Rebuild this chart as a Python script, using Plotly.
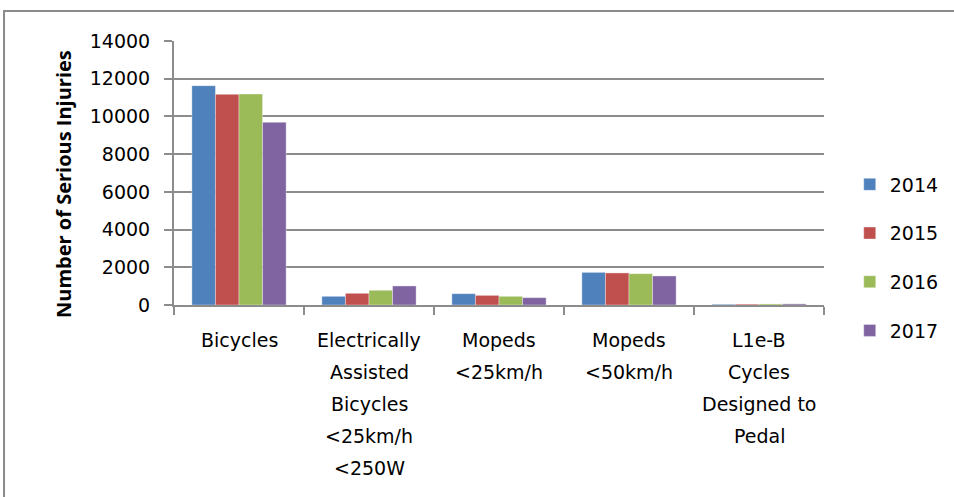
import plotly.graph_objects as go

# Serious injuries by vehicle type and year
categories = [
    "Bicycles",
    "Electrically<br>Assisted<br>Bicycles<br><25km/h<br><250W",
    "Mopeds<br><25km/h",
    "Mopeds<br><50km/h",
    "L1e-B<br>Cycles<br>Designed to<br>Pedal",
]
years = ["2014", "2015", "2016", "2017"]
injuries_2014 = [11630, 460, 600, 1730, 40]
injuries_2015 = [11170, 620, 510, 1700, 45]
injuries_2016 = [11190, 780, 460, 1660, 55]
injuries_2017 = [9690, 1010, 390, 1540, 60]
series = [injuries_2014, injuries_2015, injuries_2016, injuries_2017]
colors = ["#4F81BD", "#C0504D", "#9BBB59", "#8064A2"]
y_ticks = [0, 2000, 4000, 6000, 8000, 10000, 12000, 14000]
y_title = "Number of Serious Injuries"

FONT = "DejaVu Sans"
GRID = "#8C8C8C"

fig = go.Figure()
for year, vals, col in zip(years, series, colors):
    fig.add_trace(go.Bar(
        name=year, x=categories, y=vals, legendgroup=year,
        marker=dict(color=col, line=dict(color="rgba(255,255,255,0.6)", width=0.6)),
    ))

# Multi-line category labels under the axis, one annotation per line
for cat in categories:
    for i, line in enumerate(cat.split("<br>")):
        fig.add_annotation(
            x=cat, y=0, xref="x", yref="y", text=line, showarrow=False,
            yanchor="middle", yshift=-35 - 32 * i,
            font=dict(family=FONT, size=19, color="#000"),
        )

# Rotated y-axis title
fig.add_annotation(
    x=-0.171, y=0.458, xref="paper", yref="paper", text=f"<b>{y_title}</b>",
    textangle=-90, showarrow=False, xanchor="center", yanchor="middle",
    font=dict(family="Open Sans", size=20, color="#000"),
)

# Chart frame
fig.add_shape(type="rect", xref="paper", yref="paper",
              x0=-0.2615, x1=1.4, y0=-1.0, y1=1.1136,
              line=dict(color="#8A8A8A", width=2), fillcolor="rgba(0,0,0,0)", layer="below")

fig.update_layout(
    width=954, height=497,
    margin=dict(l=174, r=130, t=41, b=192, autoexpand=False),
    paper_bgcolor="white", plot_bgcolor="white",
    barmode="group", bargap=0.275, bargroupgap=0,
    font=dict(family=FONT, size=19, color="#000"),
    legend=dict(x=1.0396, y=0.18, xanchor="left", yanchor="middle",
                font=dict(family=FONT, size=19), tracegroupgap=21,
                itemwidth=30),
    xaxis=dict(type="category", showticklabels=False, tickson="boundaries",
               ticks="outside", ticklen=8, tickcolor=GRID, tickwidth=2,
               showline=True, linecolor=GRID, linewidth=2, showgrid=False),
    yaxis=dict(range=[0, 14000], tickvals=y_ticks, ticktext=[str(v) for v in y_ticks],
               ticks="outside", ticklen=8,
               tickcolor=GRID, tickwidth=2, showline=True, linecolor=GRID, linewidth=2,
               showgrid=True, gridcolor=GRID, gridwidth=2, zeroline=False,
               ticklabelstandoff=10, tickfont=dict(family=FONT, size=19)),
)

fig.write_html("out.html")
